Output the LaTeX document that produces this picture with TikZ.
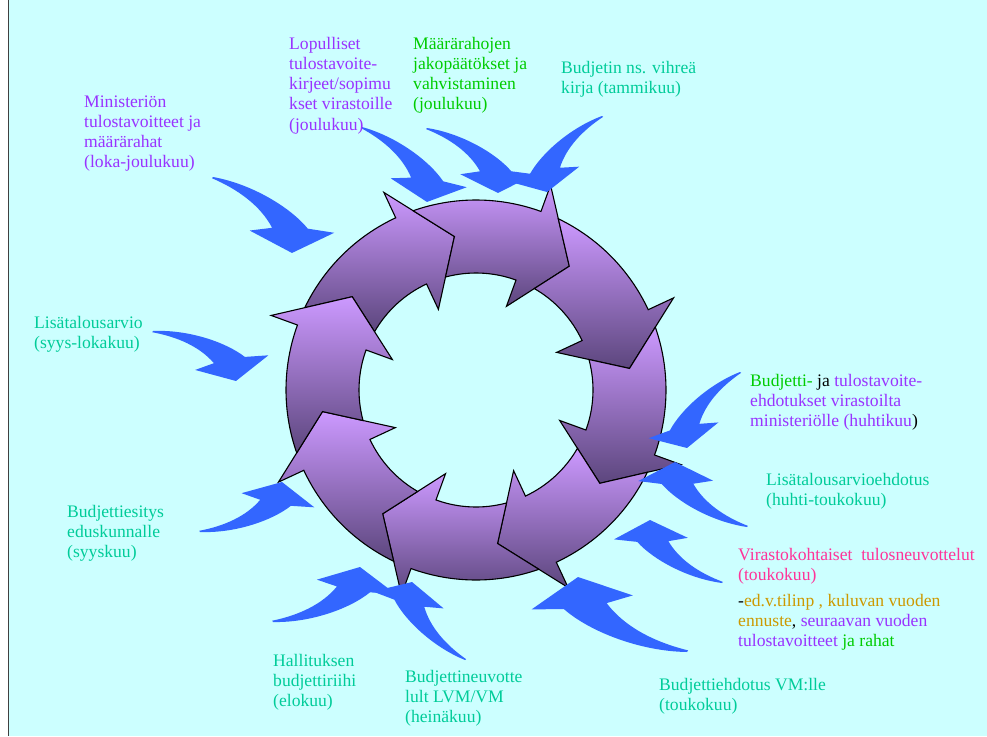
\documentclass[tikz,border=0pt]{standalone}
\usepackage{fontspec}
\setmainfont{Liberation Serif}
\definecolor{bgcyan}{RGB}{204,255,255}
\definecolor{arrblue}{RGB}{51,102,255}
\definecolor{ringlight}{RGB}{204,153,255}
\definecolor{ringdark}{RGB}{92,70,125}
\definecolor{tpurple}{RGB}{153,51,255}
\definecolor{tgreen}{RGB}{0,204,0}
\definecolor{tteal}{RGB}{0,204,153}
\definecolor{tpink}{RGB}{255,51,153}
\definecolor{tgold}{RGB}{204,153,0}
\newcommand\tl[1]{\begin{tabular}[t]{@{}l@{}}#1\end{tabular}}
\tikzset{
  txt/.style={font=\fontsize{17.6}{20.3}\selectfont, inner sep=0pt, anchor=base west},
  ringseg/.style={draw=black, line width=1.1pt, line join=miter, top color=ringlight, bottom color=ringdark},
  bluearrow/.style={fill=arrblue}
}
\newcommand\bluearrow[5]{%
  \pgfmathsetmacro\bdx{#3-#1}%
  \pgfmathsetmacro\bdy{#4-#2}%
  \pgfmathsetmacro\bang{atan2(-\bdy,\bdx)}%
  \pgfmathsetmacro\blen{veclen(\bdx,\bdy)}%
  \path[bluearrow, shift={(#1,#2)}, rotate=\bang, scale=\blen, yscale=#5]
    (0,0) .. controls (0.3,-0.2) and (0.7,-0.29) .. (0.95,-0.26)
    -- (1.15,-0.40) -- (1,0) -- (0.58,0.12) -- (0.71,-0.04)
    .. controls (0.5,-0.11) and (0.25,-0.08) .. (0,0.015) -- cycle;
}
\begin{document}
\begin{tikzpicture}[x=1pt,y=-1pt]
\useasboundingbox (0,0) rectangle (987,736);
\fill[white] (0,0) rectangle (987,736);
\fill[bgcyan] (8,0) rectangle (987,736);
\draw[black!75, line width=1pt] (8,0) -- (8,736);

% ring of eight arrows
\begin{scope}[shift={(476,390)}]
\foreach \t in {98,53,8,-37,-82,-127,-172,143}{
  \pgfmathsetmacro\b{\t+17}
  \draw[ringseg] ({\b+39.33}:190pt) arc[start angle={\b+39.33}, end angle=\b, radius=190pt]
     -- (\b:218pt) -- (\t:155pt) -- (\b:89pt) -- (\b:117pt)
     arc[start angle=\b, end angle={\b+35.11}, radius=117pt]
     -- ({\t+45}:155pt) -- cycle;
}
\end{scope}

% blue curved arrows
\bluearrow{213}{177}{292}{253}{1}
\bluearrow{362}{127}{427}{202}{1}
\bluearrow{427}{128}{498}{193}{1}
\bluearrow{602}{116}{547}{192}{-1}
\bluearrow{153}{331}{236}{381}{1}
\bluearrow{740}{372}{687}{448}{-1}
\bluearrow{747}{527}{675}{462}{1}
\bluearrow{722}{583}{650}{520}{1}
\bluearrow{687}{652}{578}{577}{1}
\bluearrow{465}{660}{412}{582}{1}
\bluearrow{273}{622}{360}{567}{-1}
\bluearrow{200}{532}{282}{482}{-1}

% texts
\node[txt, text=tpurple] (t1) at (84,107) {\tl{Ministeriön\\tulostavoitteet ja\\määrärahat\\(loka-joulukuu)}};
\node[txt, text=tpurple] (t2) at (289,49) {\tl{Lopulliset\\tulostavoite-\\kirjeet/sopimu\\kset virastoille\\(joulukuu)}};
\node[txt, text=tgreen] (t3) at (413,49) {\tl{Määrärahojen\\jakopäätökset ja\\vahvistaminen\\(joulukuu)}};
\node[txt, text=tteal] (t4) at (561,73) {\tl{Budjetin ns. vihreä\\kirja (tammikuu)}};
\node[txt, text=tteal] (t5) at (34,328) {\tl{Lisätalousarvio\\(syys-lokakuu)}};
\node[txt] (t6) at (750,386) {\tl{\textcolor{tgreen}{Budjetti-} ja \textcolor{tpurple}{tulostavoite-}\\\textcolor{tpurple}{ehdotukset virastoilta}\\\textcolor{tpurple}{ministeriölle (huhtikuu})}};
\node[txt, text=tteal] (t7) at (766,485) {\tl{Lisätalousarvioehdotus\\(huhti-toukokuu)}};
\node[txt, text=tpink] (t8) at (738,560) {\tl{Virastokohtaiset\ \ tulosneuvottelut\\(toukokuu)}};
\node[txt] (t9) at (738,606) {\tl{-\textcolor{tgold}{ed.v.tilinp , kuluvan vuoden}\\\textcolor{tgold}{ennuste}, \textcolor{tpurple}{seuraavan vuoden}\\\textcolor{tpurple}{tulostavoitteet} \textcolor{tgreen}{ja rahat}}};
\node[txt, text=tteal] (t10) at (659,690) {\tl{Budjettiehdotus VM:lle\\(toukokuu)}};
\node[txt, text=tteal] (t11) at (67,517) {\tl{Budjettiesitys\\eduskunnalle\\(syyskuu)}};
\node[txt, text=tteal] (t12) at (273,666) {\tl{Hallituksen\\budjettiriihi\\(elokuu)}};
\node[txt, text=tteal] (t13) at (405,682) {\tl{Budjettineuvotte\\lult LVM/VM\\(heinäkuu)}};
\end{tikzpicture}
\end{document}
